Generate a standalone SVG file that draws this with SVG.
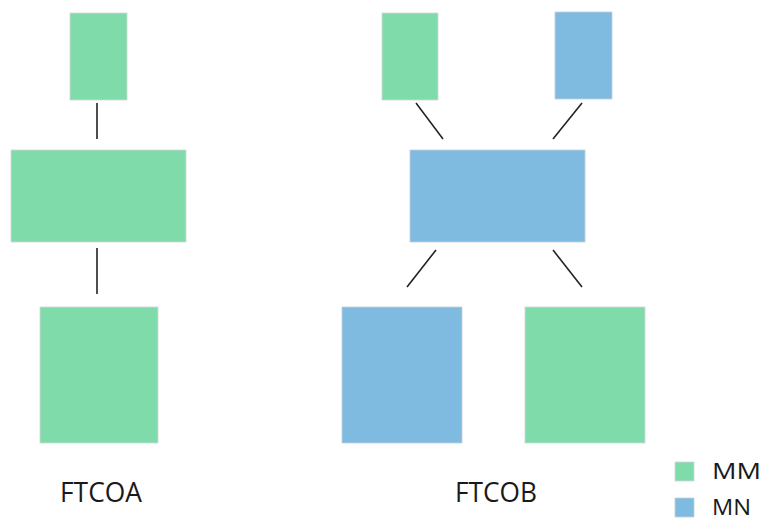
<svg xmlns="http://www.w3.org/2000/svg" width="765" height="520" viewBox="0 0 765 520">
<style>
.mm{fill:#80DBAB;stroke:#d0d8d4;stroke-width:0.8}
.mn{fill:#7FBBE1;stroke:#c8d0d8;stroke-width:0.8}
.c{stroke:#222;stroke-width:1.6;fill:none}
.t{font-family:"Open Sans","Liberation Sans",sans-serif;fill:#1a1a1a}
</style>
<rect width="765" height="520" fill="#fff"/>
<g id="a-top"><rect class="mm" x="70" y="13" width="57" height="87"/></g>
<g id="a-mid"><rect class="mm" x="11" y="150" width="175" height="92"/></g>
<g id="a-bot"><rect class="mm" x="40" y="307" width="118" height="136"/></g>
<g id="b-top-left"><rect class="mm" x="382" y="13" width="56" height="87"/></g>
<g id="b-top-right"><rect class="mn" x="555" y="12" width="57" height="87"/></g>
<g id="b-mid"><rect class="mn" x="410" y="150" width="175" height="92"/></g>
<g id="b-bot-left"><rect class="mn" x="342" y="307" width="120" height="136"/></g>
<g id="b-bot-right"><rect class="mm" x="525" y="307" width="120" height="136"/></g>
<g id="connectors">
<line class="c" x1="97" y1="103" x2="97" y2="139"/>
<line class="c" x1="97" y1="248" x2="97" y2="294"/>
<line class="c" x1="416" y1="103" x2="443" y2="139"/>
<line class="c" x1="582" y1="103" x2="553" y2="139"/>
<line class="c" x1="436" y1="250" x2="407" y2="287"/>
<line class="c" x1="553" y1="250" x2="582" y2="287"/>
</g>
<g id="labels">
<text class="t" x="60" y="502" font-size="27" textLength="82" lengthAdjust="spacingAndGlyphs">FTCOA</text>
<text class="t" x="455" y="502" font-size="27" textLength="82" lengthAdjust="spacingAndGlyphs">FTCOB</text>
</g>
<g id="legend">
<rect class="mm" x="675" y="462" width="19" height="19"/>
<rect class="mn" x="675" y="498" width="19" height="19"/>
<text class="t" x="712" y="479" font-size="22" textLength="49" lengthAdjust="spacingAndGlyphs">MM</text>
<text class="t" x="712" y="515" font-size="21" textLength="39" lengthAdjust="spacingAndGlyphs">MN</text>
</g>
</svg>
